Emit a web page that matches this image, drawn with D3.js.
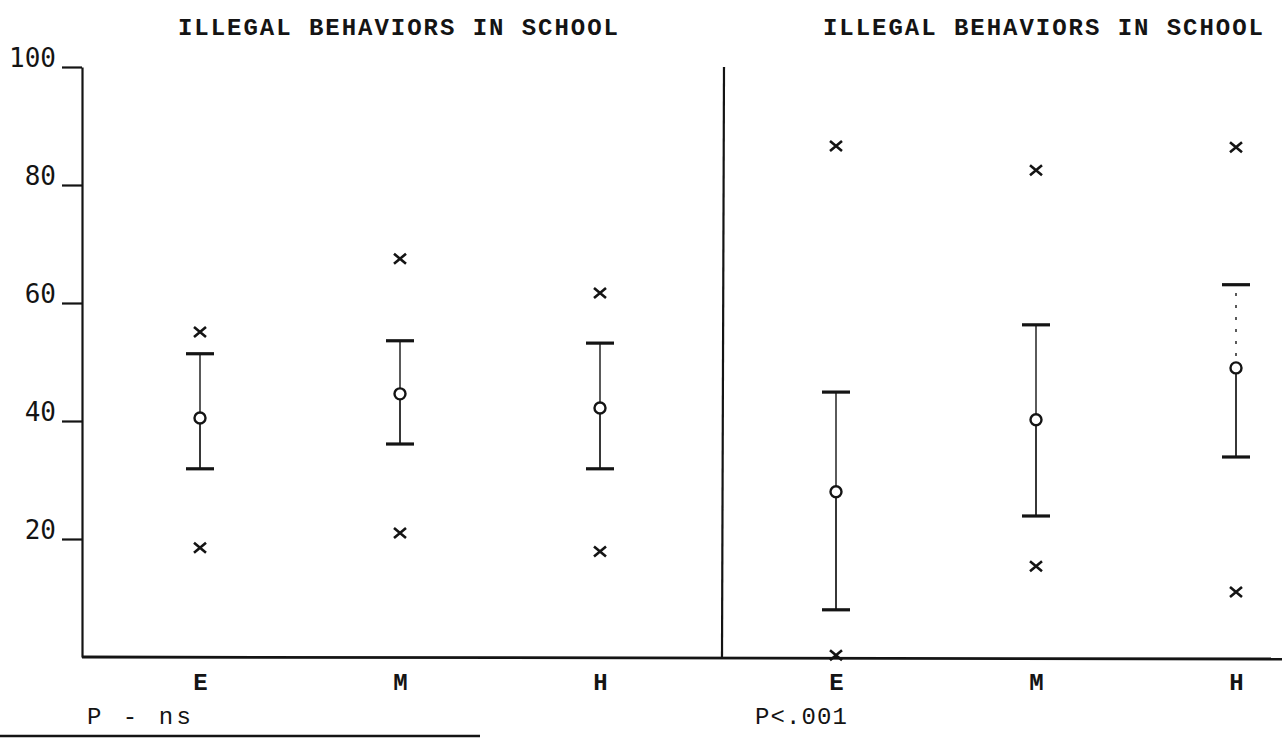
<!DOCTYPE html>
<html>
<head>
<meta charset="utf-8">
<script src="https://cdn.jsdelivr.net/npm/d3@7"></script>
<style>
  body { margin: 0; background: #fff; }
  svg { display: block; }
</style>
</head>
<body>
<script>
// data
var categories = ["E", "M", "H"];
var yTicks = [20, 40, 60, 80, 100];
var title = "ILLEGAL BEHAVIORS IN SCHOOL";
var panelNotes = ["P - ns", "P<.001"];

// left panel (P - ns)
var leftMin  = [18.5, 21.0, 17.9];
var leftLow  = [31.9, 36.1, 31.9];
var leftMean = [40.5, 44.6, 42.2];
var leftHigh = [51.4, 53.6, 53.2];
var leftMax  = [55.1, 67.5, 61.7];

// right panel (P<.001)
var rightMin  = [0.3, 15.4, 11.0];
var rightLow  = [8.0, 23.9, 33.9];
var rightMean = [28.0, 40.2, 49.0];
var rightHigh = [44.9, 56.3, 63.1];
var rightMax  = [86.6, 82.5, 86.4];

var width = 1282, height = 738;
var ink = "#141414";

var svg = d3.select("body").append("svg")
    .attr("width", width)
    .attr("height", height)
    .style("background-color", "#fff");

var y = d3.scaleLinear().domain([0, 100]).range([657, 67]);

var panels = [
    { x: d3.scalePoint().domain(categories).range([200, 600]),
      min: leftMin, low: leftLow, mean: leftMean, high: leftHigh, max: leftMax,
      titleX: 178, noteX: 87, dashTop: false },
    { x: d3.scalePoint().domain(categories).range([836, 1236]),
      min: rightMin, low: rightLow, mean: rightMean, high: rightHigh, max: rightMax,
      titleX: 823, noteX: 755, dashTop: true }
];

// y axis
var yAxis = svg.append("g")
    .attr("transform", "translate(82,0)")
    .call(d3.axisLeft(y).tickValues(yTicks).tickSize(20).tickSizeOuter(0).tickPadding(6));
yAxis.select(".domain").attr("stroke", ink).attr("stroke-width", 2.2);
yAxis.selectAll(".tick line").attr("stroke", ink).attr("stroke-width", 2.2);
yAxis.selectAll(".tick text")
    .attr("fill", ink)
    .attr("dy", "-0.02em")
    .style("font-family", "'DejaVu Sans Mono', monospace")
    .style("font-size", "26px");

// x baseline and panel divider
svg.append("line")
    .attr("x1", 82).attr("x2", width)
    .attr("y1", y(0)).attr("y2", y(0) + 2)
    .attr("stroke", ink).attr("stroke-width", 2.8);
svg.append("line")
    .attr("x1", 722).attr("x2", 724)
    .attr("y1", y(0)).attr("y2", y(100))
    .attr("stroke", ink).attr("stroke-width", 2.2);

// scan edge line at bottom
svg.append("line")
    .attr("x1", 0).attr("x2", 480)
    .attr("y1", 736).attr("y2", 736)
    .attr("stroke", ink).attr("stroke-width", 2.5);

var typeFont = "'Liberation Mono', 'DejaVu Sans Mono', monospace";

panels.forEach(function(p, pi) {
    var idx = d3.range(categories.length);

    var xAxis = svg.append("g")
        .attr("transform", "translate(0," + (y(0) + 1) + ")")
        .call(d3.axisBottom(p.x).tickSize(0).tickPadding(15));
    xAxis.select(".domain").remove();
    xAxis.selectAll(".tick text")
        .attr("fill", ink)
        .style("font-family", typeFont)
        .style("font-weight", "bold")
        .style("font-size", "24px");

    svg.append("text")
        .attr("x", p.titleX).attr("y", 35)
        .attr("fill", ink)
        .attr("textLength", 440)
        .attr("lengthAdjust", "spacing")
        .style("font-family", typeFont)
        .style("font-weight", "bold")
        .style("font-size", "24px")
        .text(title);

    svg.append("text")
        .attr("x", p.noteX).attr("y", 724)
        .attr("fill", ink)
        .attr("textLength", pi == 0 ? 104 : 92)
        .attr("lengthAdjust", "spacing")
        .style("font-family", typeFont)
        .style("font-size", "24px")
        .text(panelNotes[pi]);

    var g = svg.append("g");

    // lower whisker part
    g.selectAll(".lowline").data(idx).enter().append("line")
        .attr("x1", d => p.x(categories[d])).attr("x2", d => p.x(categories[d]))
        .attr("y1", d => y(p.low[d])).attr("y2", d => y(p.mean[d]))
        .attr("stroke", ink).attr("stroke-width", 1.7);
    // upper whisker part
    g.selectAll(".highline").data(idx).enter().append("line")
        .attr("x1", d => p.x(categories[d])).attr("x2", d => p.x(categories[d]))
        .attr("y1", d => y(p.mean[d])).attr("y2", d => y(p.high[d]))
        .attr("stroke", ink).attr("stroke-width", 1.4)
        .attr("stroke-dasharray", d => (p.dashTop && d == 2) ? "3,9" : null);

    // caps
    var caps = [];
    idx.forEach(function(d) { caps.push([d, p.low[d]]); caps.push([d, p.high[d]]); });
    g.selectAll(".cap").data(caps).enter().append("line")
        .attr("x1", d => p.x(categories[d[0]]) - 14).attr("x2", d => p.x(categories[d[0]]) + 14)
        .attr("y1", d => y(d[1])).attr("y2", d => y(d[1]))
        .attr("stroke", ink).attr("stroke-width", 3.2);

    // means
    g.selectAll(".mean").data(idx).enter().append("circle")
        .attr("cx", d => p.x(categories[d]))
        .attr("cy", d => y(p.mean[d]))
        .attr("r", 5.5)
        .attr("fill", "#fff")
        .attr("stroke", ink).attr("stroke-width", 2.4);

    // extremes as crosses
    var ext = [];
    idx.forEach(function(d) { ext.push([d, p.min[d]]); ext.push([d, p.max[d]]); });
    g.selectAll(".cross").data(ext).enter().append("path")
        .attr("transform", d => "translate(" + p.x(categories[d[0]]) + "," + y(d[1]) + ")")
        .attr("d", "M-6,-5L6,5M-6,5L6,-5")
        .attr("stroke", ink).attr("stroke-width", 2.6)
        .attr("fill", "none");
});
</script>
</body>
</html>
